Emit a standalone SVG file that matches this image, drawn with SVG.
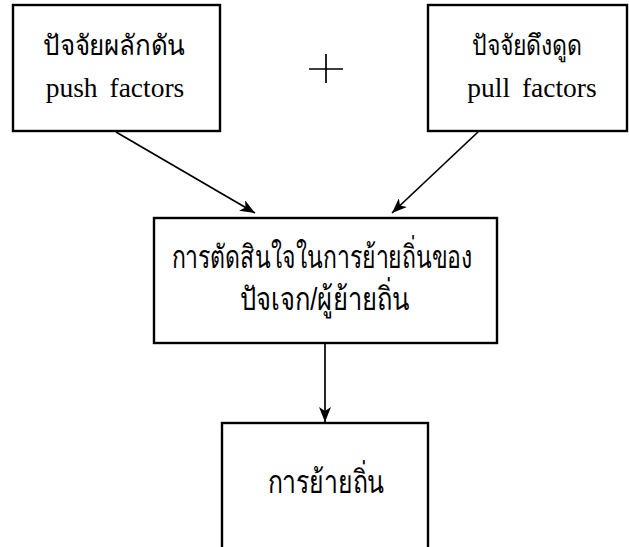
<svg xmlns="http://www.w3.org/2000/svg" width="629" height="547" viewBox="0 0 629 547">
<style>
.box{fill:#fff;stroke:#000;stroke-width:2.4}
.t{font-family:"Liberation Serif","Noto Sans",serif;font-size:27.5px;fill:#000;text-anchor:middle}
.th{font-family:"Liberation Serif","Noto Sans",serif;font-size:28px;fill:#000;text-anchor:middle}
.ts{font-family:"Liberation Sans","Noto Sans",sans-serif;font-size:32px;fill:#000;text-anchor:middle}
.en{word-spacing:5px}
.c{stroke:#000;stroke-width:1.7;fill:none}
</style>
<defs>
<marker id="ah" viewBox="0 0 15 12" refX="15" refY="6" markerWidth="15" markerHeight="12" markerUnits="userSpaceOnUse" orient="auto">
<path d="M0,0 L15,6 L0,12 L4,6 Z" fill="#000"/>
</marker>
</defs>
<rect width="629" height="547" fill="#fff"/>
<g id="push">
<rect class="box" x="13" y="5" width="207" height="126"/>
<text class="th" x="114" y="55" textLength="142" lengthAdjust="spacingAndGlyphs">ปัจจัยผลักดัน</text>
<text class="t en" x="115" y="97">push factors</text>
</g>
<g id="pull">
<rect class="box" x="428" y="5" width="199" height="126"/>
<text class="th" x="527" y="55" textLength="110" lengthAdjust="spacingAndGlyphs">ปัจจัยดึงดูด</text>
<text class="t en" x="532" y="97">pull factors</text>
</g>
<g id="plus">
<path class="c" d="M309,69 H343 M326,54 V83"/>
</g>
<g id="decision">
<rect class="box" x="154" y="218" width="343" height="125"/>
<text class="ts" x="322" y="268" textLength="301" lengthAdjust="spacingAndGlyphs">การตัดสินใจในการย้ายถิ่นของ</text>
<text class="ts" x="325" y="310" textLength="170" lengthAdjust="spacingAndGlyphs">ปัจเจก/ผู้ย้ายถิ่น</text>
</g>
<g id="migration">
<rect class="box" x="222" y="423" width="206" height="140"/>
<text class="ts" x="326" y="493" textLength="117" lengthAdjust="spacingAndGlyphs">การย้ายถิ่น</text>
</g>
<g id="connectors">
<line class="c" x1="116" y1="132" x2="255" y2="213" marker-end="url(#ah)"/>
<line class="c" x1="478" y1="132" x2="392" y2="213" marker-end="url(#ah)"/>
<line class="c" x1="325" y1="343" x2="325" y2="422" marker-end="url(#ah)"/>
</g>
</svg>
